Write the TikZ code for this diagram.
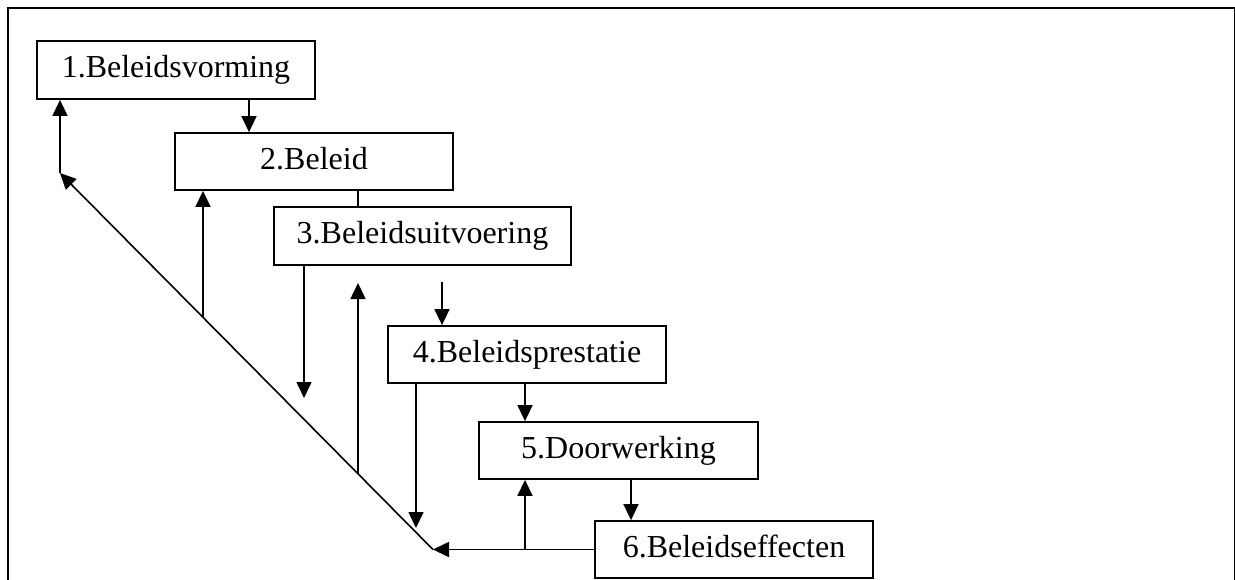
\documentclass[tikz,border=0pt]{standalone}
\usepackage{fontspec}
\setmainfont{Liberation Serif}
\usetikzlibrary{arrows.meta}
\begin{document}
\begin{tikzpicture}[x=0.5pt,y=-0.5pt,
  box/.style={draw,line width=0.9pt,rectangle,inner sep=0pt,font=\fontsize{16}{18}\selectfont,text height=11pt,text depth=3.2pt},
  con/.style={line width=0.8pt},
  arr/.style={con,-{Triangle[length=8pt,width=7.5pt]}},
  frame/.style={line width=1pt}]
\useasboundingbox (0,0) rectangle (1235,579);
% frame (bottom edge lies outside the picture)
\draw[frame] (7.5,590) -- (7.5,7.5) -- (1234.5,7.5) -- (1234.5,590);
% boxes
\node[box,minimum width=139pt,minimum height=29pt] (b1) at (176,70) {1.Beleidsvorming};
\node[box,minimum width=139pt,minimum height=28.5pt] (b2) at (314,161.5) {2.Beleid};
\node[box,minimum width=148.5pt,minimum height=29pt] (b3) at (422.5,236) {3.Beleidsuitvoering};
\node[box,minimum width=139pt,minimum height=28.5pt] (b4) at (527,354.5) {4.Beleidsprestatie};
\node[box,minimum width=139.5pt,minimum height=28.5pt] (b5) at (618.5,450.5) {5.Doorwerking};
\node[box,minimum width=139pt,minimum height=28.5pt] (b6) at (734,549.5) {6.Beleidseffecten};
% helper coordinates
\coordinate (xa) at (249,0);
\coordinate (xb) at (358,0);
\coordinate (xc) at (304,0);
\coordinate (xd) at (442,0);
\coordinate (xe) at (416,0);
\coordinate (xf) at (525,0);
\coordinate (xg) at (631,0);
\coordinate (xh) at (60,0);
\coordinate (xi) at (203,0);
\coordinate (corner) at (433,549.5);
\coordinate (bend) at (60,173);
\coordinate (d3end) at (304,398);
\coordinate (u3base) at (358,473.5);
\coordinate (u3end) at (358,283);
\coordinate (d4start) at (442,282);
\coordinate (d5end) at (416,528);
\coordinate (u2base) at (203,317);
% connectors
\draw[arr] (b1.south -| xa) -- (b2.north -| xa);
\draw[con] (b2.south -| xb) -- (b3.north -| xb);
\draw[arr] (b3.south -| xc) -- (d3end);
\draw[arr] (u3base) -- (u3end);
\draw[arr] (d4start) -- (b4.north -| xd);
\draw[arr] (b4.south -| xe) -- (d5end);
\draw[arr] (b4.south -| xf) -- (b5.north -| xf);
\draw[arr] (b5.south -| xg) -- (b6.north -| xg);
\draw[arr] (b6.west) -- (corner);
\draw[arr] (corner -| xf) -- (b5.south -| xf);
\draw[arr] (corner) -- (bend);
\draw[arr] (bend) -- (b1.south -| xh);
\draw[arr] (u2base) -- (b2.south -| xi);
\end{tikzpicture}
\end{document}
